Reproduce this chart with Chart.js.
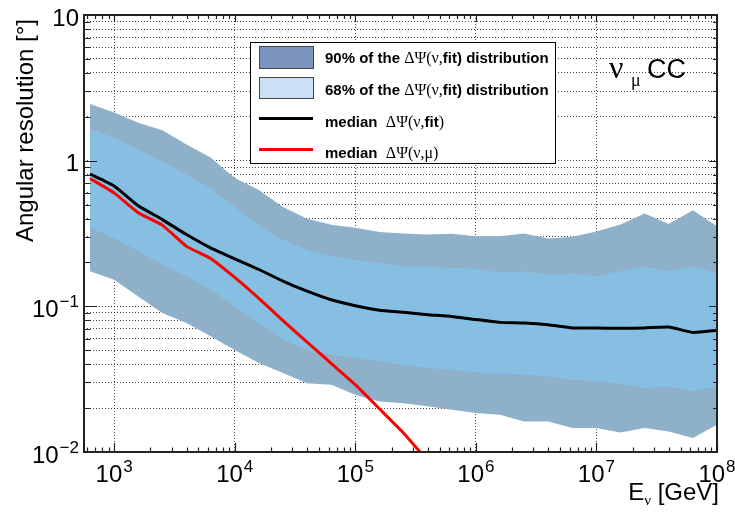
<!DOCTYPE html>
<html>
<head>
<meta charset="utf-8">
<script src="https://cdn.jsdelivr.net/npm/chart.js@4.4.1/dist/chart.umd.min.js"></script>
<style>
  html, body { margin: 0; padding: 0; background: #ffffff; }
  #wrap { width: 735px; height: 512px; }
</style>
</head>
<body>
<div id="wrap"><canvas id="c" width="735" height="512"></canvas></div>
<script>
// log10(E_nu / GeV) at the centre of each energy bin
const energyExp = [2.8, 3.0, 3.2, 3.4, 3.6, 3.8, 4.0, 4.2, 4.4, 4.6, 4.8, 5.0, 5.2, 5.4,
                   5.6, 5.8, 6.0, 6.2, 6.4, 6.6, 6.8, 7.0, 7.2, 7.4, 7.6, 7.8, 8.0];

// angular resolution in degrees
const band90Hi = [2.45, 2.14, 1.82, 1.62, 1.29, 1.05, 0.76, 0.63, 0.48, 0.40, 0.363, 0.347, 0.324, 0.316,
                  0.311, 0.315, 0.303, 0.303, 0.316, 0.292, 0.300, 0.327, 0.364, 0.434, 0.368, 0.457, 0.355];
const band90Lo = [0.174, 0.152, 0.117, 0.090, 0.0769, 0.0622, 0.0501, 0.0408, 0.0348, 0.0297, 0.029, 0.0247, 0.0222, 0.0216,
                  0.0206, 0.0195, 0.0185, 0.018, 0.0162, 0.0162, 0.0146, 0.0146, 0.0136, 0.0146, 0.0138, 0.0125, 0.0154];
const band68Hi = [1.64, 1.44, 1.19, 0.99, 0.80, 0.65, 0.48, 0.364, 0.287, 0.245, 0.221, 0.209, 0.199, 0.188,
                  0.187, 0.184, 0.181, 0.171, 0.174, 0.165, 0.168, 0.161, 0.174, 0.188, 0.174, 0.187, 0.169];
const band68Lo = [0.346, 0.295, 0.239, 0.194, 0.161, 0.130, 0.100, 0.0769, 0.059, 0.0504, 0.0466, 0.0442, 0.0419, 0.0397,
                  0.0378, 0.0367, 0.0352, 0.0344, 0.034, 0.033, 0.0313, 0.0305, 0.0294, 0.0275, 0.0282, 0.0261, 0.0282];
const medianFit = [0.81, 0.67, 0.49, 0.394, 0.311, 0.252, 0.212, 0.179, 0.149, 0.127, 0.111, 0.101, 0.094, 0.091,
                   0.0877, 0.0853, 0.0811, 0.0776, 0.0769, 0.0748, 0.0711, 0.0711, 0.0706, 0.0711, 0.0721, 0.0662, 0.0684];
const medianMu = [0.755, 0.601, 0.439, 0.361, 0.258, 0.213, 0.158, 0.1135, 0.0798, 0.0569, 0.0406, 0.029, 0.0198, 0.0135, 0.0087];

// axis labels: mantissa and exponent
const xTickExps = ['3', '4', '5', '6', '7', '8'];
const yTickValues = [0.01, 0.1, 1, 10];
const yTickBase = ['10', '10', '1', '10'];
const yTickExp = ['\u22122', '\u22121', '', ''];

const legendLabels = [
  [['90% of the ', 'b'], ['\u0394\u03A8(\u03BD,', 's'], ['fit', 'b'], [') distribution', 'b']],
  [['68% of the ', 'b'], ['\u0394\u03A8(\u03BD,', 's'], ['fit', 'b'], [') distribution', 'b']],
  [['median  ', 'b'], ['\u0394\u03A8(\u03BD,', 's'], ['fit', 'b'], [')', 's']],
  [['median  ', 'b'], ['\u0394\u03A8(\u03BD,\u03BC)', 's']]
];

const COL90 = '#8fb0c9';
const COL68 = '#86bfe2';
const SANS = '"Liberation Sans", Arial, Helvetica, sans-serif';
const SERIF = '"Liberation Serif", "Times New Roman", serif';

const energies = energyExp.map(e => Math.pow(10, e));
const pts = arr => arr.map((y, i) => ({ x: energies[i], y }));

const isDecade = v => Math.abs(Math.log10(v) - Math.round(Math.log10(v))) < 1e-9;
function logTicks(min, max) {
  const out = [];
  for (let e = Math.floor(Math.log10(min)) - 1; e <= Math.ceil(Math.log10(max)); e++) {
    for (let k = 1; k <= 9; k++) {
      const v = k * Math.pow(10, e);
      if (v >= min * (1 - 1e-9) && v <= max * (1 + 1e-9)) out.push({ value: v, major: k === 1 });
    }
  }
  return out;
}

function drawSegments(ctx, x, baseY, segs, size) {
  let cx = x;
  for (const [t, kind] of segs) {
    ctx.font = kind === 'b' ? 'bold ' + size + 'px ' + SANS : (size + 1) + 'px ' + SERIF;
    ctx.fillText(t, cx, baseY);
    cx += ctx.measureText(t).width;
  }
}

const decor = {
  id: 'decor',
  afterDraw(chart) {
    const ctx = chart.ctx;
    const a = chart.chartArea;
    const xs = chart.scales.x, ys = chart.scales.y;
    ctx.save();

    // frame
    ctx.strokeStyle = '#222';
    ctx.lineWidth = 2;
    ctx.strokeRect(a.left, a.top, a.right - a.left, a.bottom - a.top);

    // inward tick marks on all four sides
    ctx.lineWidth = 1.2;
    ctx.beginPath();
    for (const t of xs.ticks) {
      const px = Math.round(xs.getPixelForValue(t.value)) + 0.5;
      const maj = isDecade(t.value);
      ctx.moveTo(px, a.bottom); ctx.lineTo(px, a.bottom - (maj ? 9 : 4.5));
      ctx.moveTo(px, a.top); ctx.lineTo(px, a.top + (maj ? 7 : 4));
    }
    for (const t of ys.ticks) {
      const py = Math.round(ys.getPixelForValue(t.value)) + 0.5;
      const maj = isDecade(t.value);
      ctx.moveTo(a.left, py); ctx.lineTo(a.left + (maj ? 13 : 6.5), py);
      ctx.moveTo(a.right, py); ctx.lineTo(a.right - (maj ? 8 : 4), py);
    }
    ctx.stroke();

    // tick labels
    ctx.fillStyle = '#000';
    ctx.textBaseline = 'alphabetic';
    ctx.textAlign = 'left';
    const baseFont = '24px ' + SANS, expFont = '17px ' + SANS;
    for (const ex of xTickExps) {
      const px = xs.getPixelForValue(Math.pow(10, Number(ex)));
      ctx.font = baseFont; const wb = ctx.measureText('10').width;
      ctx.font = expFont; const we = ctx.measureText(ex).width;
      const x0 = px - (wb + we + 1) / 2;
      ctx.font = baseFont; ctx.fillText('10', x0, 482);
      ctx.font = expFont; ctx.fillText(ex, x0 + wb + 1, 472);
    }
    yTickValues.forEach((v, i) => {
      const py = ys.getPixelForValue(v);
      const base = yTickBase[i], ex = yTickExp[i];
      ctx.font = baseFont; const wb = ctx.measureText(base).width;
      ctx.font = expFont; const we = ex ? ctx.measureText(ex).width + 1 : 0;
      const x0 = 79 - wb - we;
      const bl = py + 10.5;
      ctx.font = baseFont; ctx.fillText(base, x0, bl);
      if (ex) { ctx.font = expFont; ctx.fillText(ex, x0 + wb + 1, bl - 10); }
    });

    // axis titles
    ctx.save();
    ctx.translate(26, 19);
    ctx.rotate(-Math.PI / 2);
    ctx.font = '24px ' + SANS;
    ctx.textAlign = 'right';
    ctx.textBaseline = 'middle';
    ctx.fillText('Angular resolution [\u00B0]', 0, 0);
    ctx.restore();

    ctx.textAlign = 'left';
    ctx.textBaseline = 'alphabetic';
    {
      ctx.font = '24px ' + SANS; const wE = ctx.measureText('E').width; const wG = ctx.measureText(' [GeV]').width;
      ctx.font = '15px ' + SERIF; const wn = ctx.measureText('\u03BD').width;
      const x0 = 719 - wE - wn - wG;
      ctx.font = '24px ' + SANS; ctx.fillText('E', x0, 500);
      ctx.font = '15px ' + SERIF; ctx.fillText('\u03BD', x0 + wE, 505);
      ctx.font = '24px ' + SANS; ctx.fillText(' [GeV]', x0 + wE + wn, 500);
    }

    // channel label
    ctx.font = '32px ' + SERIF; ctx.fillText('\u03BD', 609, 78);
    ctx.font = '18px ' + SERIF; ctx.fillText('\u03BC', 631, 86);
    ctx.font = '27px ' + SANS; ctx.fillText('CC', 647, 78);

    // legend
    ctx.fillStyle = '#fff';
    ctx.fillRect(250, 42, 305, 121);
    ctx.strokeStyle = '#000';
    ctx.lineWidth = 1;
    ctx.strokeRect(250.5, 42.5, 305, 121);

    ctx.strokeStyle = '#444';
    ctx.fillStyle = '#7b94be';
    ctx.fillRect(259, 46, 54, 22); ctx.strokeRect(259.5, 46.5, 54, 22);
    ctx.fillStyle = '#cce0f5';
    ctx.fillRect(259, 77, 54, 21); ctx.strokeRect(259.5, 77.5, 54, 21);
    ctx.lineWidth = 3;
    ctx.strokeStyle = '#000';
    ctx.beginPath(); ctx.moveTo(259, 118.5); ctx.lineTo(313, 118.5); ctx.stroke();
    ctx.strokeStyle = '#ff0000';
    ctx.beginPath(); ctx.moveTo(259, 149.5); ctx.lineTo(313, 149.5); ctx.stroke();

    ctx.fillStyle = '#000';
    const mids = [57, 89, 121, 152];
    legendLabels.forEach((segs, i) => drawSegments(ctx, 325, mids[i] + 5.5, segs, 15));

    ctx.restore();
  }
};

const lineBase = { pointRadius: 0, pointHoverRadius: 0, borderWidth: 0, tension: 0 };

new Chart(document.getElementById('c'), {
  type: 'line',
  data: {
    datasets: [
      Object.assign({ label: '90% upper', data: pts(band90Hi), fill: 1, backgroundColor: COL90, borderColor: COL90, order: 3 }, lineBase),
      Object.assign({ label: '90% lower', data: pts(band90Lo), fill: false, borderColor: COL90, order: 3 }, lineBase),
      Object.assign({ label: '68% upper', data: pts(band68Hi), fill: 3, backgroundColor: COL68, borderColor: COL68, order: 2 }, lineBase),
      Object.assign({ label: '68% lower', data: pts(band68Lo), fill: false, borderColor: COL68, order: 2 }, lineBase),
      { label: 'median fit', data: pts(medianFit), fill: false, borderColor: '#000', borderWidth: 3,
        pointRadius: 0, tension: 0.15, order: 1 },
      { label: 'median mu', data: pts(medianMu), fill: false, borderColor: '#ff0000', borderWidth: 3,
        pointRadius: 0, tension: 0.1, order: 0, clip: 0 }
    ]
  },
  options: {
    responsive: false,
    animation: false,
    events: [],
    layout: { padding: { left: 84, right: 18, top: 15, bottom: 60 } },
    plugins: { legend: { display: false }, tooltip: { enabled: false }, title: { display: false } },
    scales: {
      x: {
        type: 'logarithmic',
        min: Math.pow(10, 2.75),
        max: 1e8,
        ticks: { display: false },
        afterBuildTicks: s => { s.ticks = logTicks(s.min, s.max); },
        grid: {
          drawTicks: false,
          lineWidth: 1,
          color: c => (c.tick && isDecade(c.tick.value)) ? 'rgba(40,40,40,0.85)' : 'rgba(0,0,0,0)'
        },
        border: { display: false, dash: [1, 2] }
      },
      y: {
        type: 'logarithmic',
        min: 0.01,
        max: 10,
        ticks: { display: false },
        afterBuildTicks: s => { s.ticks = logTicks(s.min, s.max); },
        grid: { drawTicks: false, lineWidth: 1, color: 'rgba(40,40,40,0.85)' },
        border: { display: false, dash: [1, 2] }
      }
    }
  },
  plugins: [decor]
});
</script>
</body>
</html>
